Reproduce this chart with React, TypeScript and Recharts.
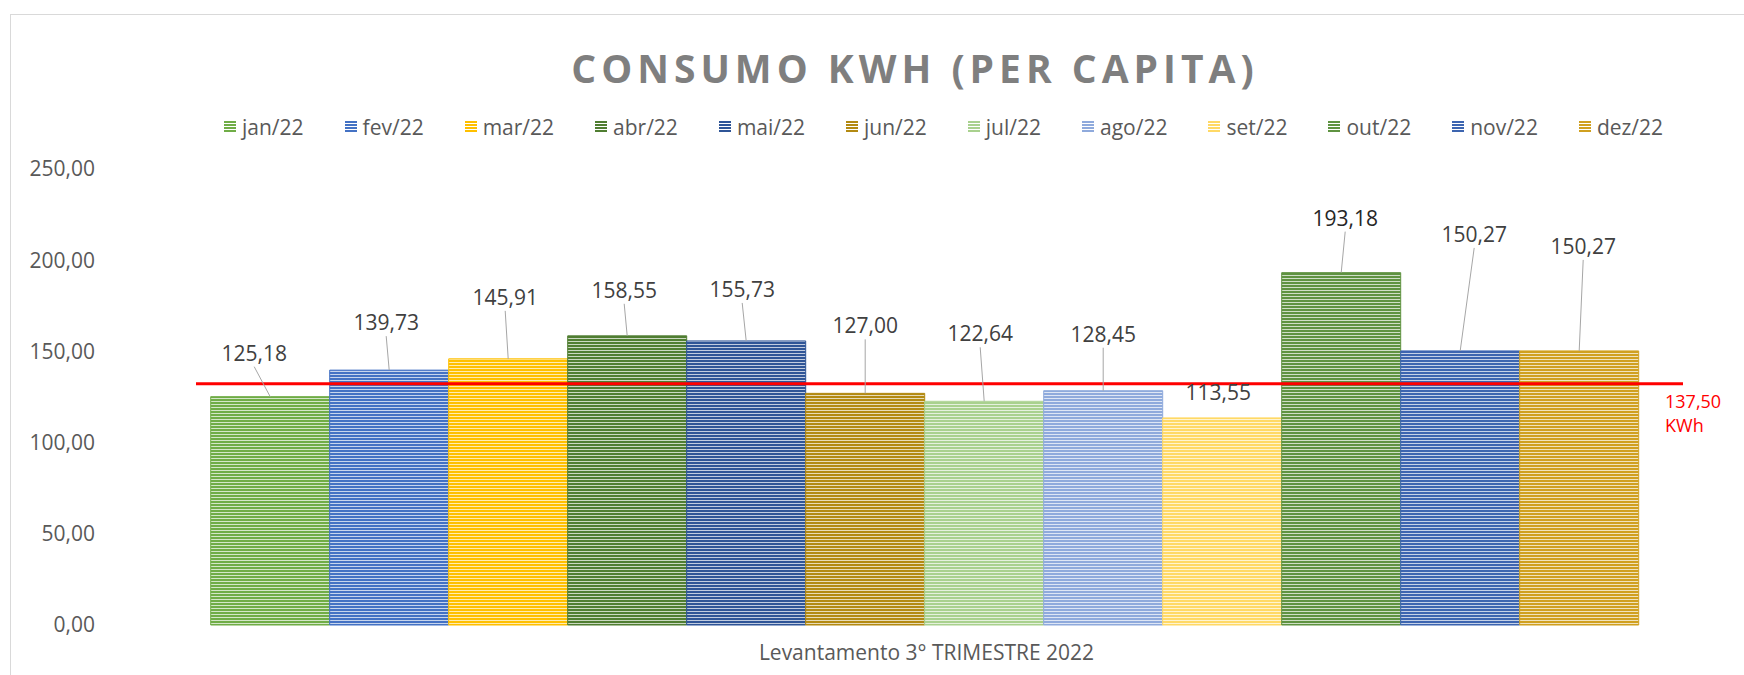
import { Bar, BarChart, ReferenceLine, XAxis, YAxis } from "recharts";

const MONTHS = ["jan/22", "fev/22", "mar/22", "abr/22", "mai/22", "jun/22", "jul/22", "ago/22", "set/22", "out/22", "nov/22", "dez/22"];
const VALUES = [125.18, 139.73, 145.91, 158.55, 155.73, 127.0, 122.64, 128.45, 113.55, 193.18, 150.27, 150.27];
const CATEGORY = ["Levantamento 3° TRIMESTRE 2022"];
const Y_TICKS = [0, 50, 100, 150, 200, 250];
const TARGET = 132.3;
const TARGET_TEXT = ["137,50", "KWh"];

const COLORS = [
  "#70ad47", "#4472c4", "#ffc000", "#507e32", "#2f5597", "#b38a12",
  "#a9d18e", "#8faadc", "#ffd966", "#5f9341", "#3d65b0", "#d0a020",
];

// label nudges (px) relative to the bar top centre, mimics the dragged Excel labels
const NUDGE: [number, number, boolean][] = [
  [-16, -44, true], [-3, -48, true], [-3, -62, true], [-3, -46, true],
  [-4, -52, true], [0, -68, true], [-4, -68, true], [0, -57, true],
  [-4, -26, false], [4, -55, true], [14, -117, true], [4, -105, true],
];

const fmt = (v: number) => v.toFixed(2).replace(".", ",");

const data = CATEGORY.map((name) => {
  const row: Record<string, string | number> = { name };
  MONTHS.forEach((m, i) => (row[m] = VALUES[i]));
  return row;
});

const makeLabel = (i: number) => (props: any) => {
  const { x, y, width, value } = props;
  const cx = Number(x) + Number(width) / 2;
  const top = Number(y);
  const [dx, dy, line] = NUDGE[i];
  const lx = cx + dx;
  const ly = top + dy;
  return (
    <g>
      {line && <line x1={lx} y1={ly + 14} x2={cx} y2={top} stroke="#a6a6a6" strokeWidth={1} />}
      <text
        x={lx}
        y={ly}
        textAnchor="middle"
        dominantBaseline="central"
        fontSize={21}
        fill={i === 9 ? "#262626" : "#404040"}
      >
        {fmt(Number(value))}
      </text>
    </g>
  );
};

const TargetShape = (p: any) => (
  <g>
    <line x1={p.x1} y1={p.y1} x2={p.x2 + 26} y2={p.y2} stroke="#ff0000" strokeWidth={3} />
    <text x={p.x2 + 8} y={p.y2 + 24} fontSize={18} fill="#ff0000">
      {TARGET_TEXT[0]}
    </text>
    <text x={p.x2 + 8} y={p.y2 + 48} fontSize={18} fill="#ff0000">
      {TARGET_TEXT[1]}
    </text>
  </g>
);

export default function App() {
  return (
    <div
      style={{
        position: "absolute",
        left: 0,
        top: 0,
        width: 1744,
        height: 675,
        overflow: "hidden",
        background: "#fff",
        fontFamily: '"Open Sans", sans-serif',
      }}
    >
      <div
        style={{
          position: "absolute",
          left: 10,
          top: 14,
          width: 1800,
          height: 800,
          border: "1px solid #d9d9d9",
        }}
      />
      <div
        style={{
          position: "absolute",
          left: 0,
          top: 48,
          width: 1830,
          textAlign: "center",
          fontSize: 39,
          lineHeight: 1,
          fontWeight: 700,
          letterSpacing: 5,
          color: "#7f7f7f",
        }}
      >
        CONSUMO KWH (PER CAPITA)
      </div>
      <div
        style={{
          position: "absolute",
          left: 224,
          top: 113,
          height: 28,
          display: "flex",
          alignItems: "center",
          gap: 41,
          fontSize: 21,
          color: "#595959",
          whiteSpace: "nowrap",
        }}
      >
        {MONTHS.map((m, i) => (
          <div key={m} style={{ display: "flex", alignItems: "center", gap: 6 }}>
            <span
              style={{
                width: 12,
                height: 12,
                background: `repeating-linear-gradient(${COLORS[i]} 0px, ${COLORS[i]} 2px, rgba(255,255,255,0.6) 2px, rgba(255,255,255,0.6) 3px)`,
              }}
            />
            <span>{m}</span>
          </div>
        ))}
      </div>
      <div style={{ position: "absolute", left: 0, top: 0 }}>
        <BarChart
          width={1744}
          height={675}
          data={data}
          margin={{ top: 169, right: 87, bottom: 0, left: 0 }}
          barGap={0}
          barCategoryGap={14.7}
        >
          <defs>
            {COLORS.map((c, i) => (
              <pattern key={c + i} id={`stripe${i}`} width={6} height={3} patternUnits="userSpaceOnUse">
                <rect width={6} height={3} fill={c} />
                <rect y={2} width={6} height={1} fill="#ffffff" opacity={0.7} />
              </pattern>
            ))}
          </defs>
          <XAxis
            dataKey="name"
            height={50}
            axisLine={false}
            tickLine={false}
            tickSize={0}
            tickMargin={20}
            tick={{ fontSize: 21, fill: "#595959" }}
          />
          <YAxis
            width={196}
            domain={[0, 250]}
            ticks={Y_TICKS}
            axisLine={false}
            tickLine={false}
            tickSize={0}
            tickMargin={101}
            tickFormatter={fmt}
            tick={{ fontSize: 21, fill: "#595959" }}
          />
          {MONTHS.map((m, i) => (
            <Bar
              key={m}
              dataKey={m}
              fill={`url(#stripe${i})`}
              stroke={COLORS[i]}
              strokeWidth={1}
              label={makeLabel(i)}
              isAnimationActive={false}
            />
          ))}
          <ReferenceLine y={TARGET} shape={TargetShape} />
        </BarChart>
      </div>
    </div>
  );
}
